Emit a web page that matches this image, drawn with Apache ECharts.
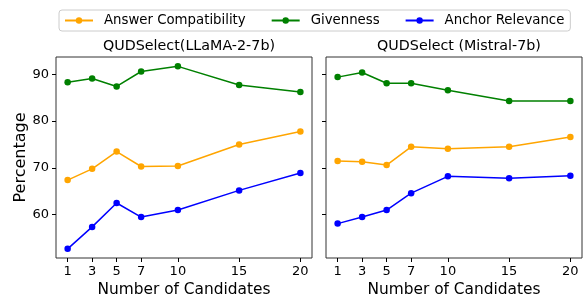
<!DOCTYPE html>
<html>
<head>
<meta charset="utf-8">
<script src="https://cdn.jsdelivr.net/npm/echarts@6/dist/echarts.min.js"></script>
<style>
    html, body { margin: 0; padding: 0; background: #fff; }
    #chart { width: 585px; height: 295px; }
</style>
</head>
<body>
<div id="chart"></div>
<script>
// 候选数量
var candidates = [1, 3, 5, 7, 10, 15, 20];
var yTicks = [60, 70, 80, 90];
var seriesNames = ['Answer Compatibility', 'Givenness', 'Anchor Relevance'];
var panelTitles = ['QUDSelect(LLaMA-2-7b)', 'QUDSelect (Mistral-7b)'];

// LLaMA-2-7b
var llamaAnswer = [67.4, 69.8, 73.5, 70.3, 70.4, 75.0, 77.8];
var llamaGiven = [88.3, 89.1, 87.4, 90.6, 91.7, 87.7, 86.2];
var llamaAnchor = [52.7, 57.4, 62.5, 59.5, 61.0, 65.2, 68.9];

// Mistral-7b
var mistralAnswer = [71.5, 71.3, 70.6, 74.5, 74.1, 74.5, 76.6];
var mistralGiven = [89.4, 90.4, 88.1, 88.1, 86.6, 84.3, 84.3];
var mistralAnchor = [58.1, 59.5, 61.0, 64.6, 68.2, 67.8, 68.3];

var colors = ['#FFA500', '#008000', '#0000FF'];
var font = 'DejaVu Sans';

function pairs(ys) {
    return candidates.map(function (x, i) { return [x, ys[i]]; });
}

var chart = echarts.init(document.getElementById('chart'));

function makeX(idx) {
    return {
        type: 'value',
        gridIndex: idx,
        min: 0.05,
        max: 20.95,
        name: 'Number of Candidates',
        nameLocation: 'middle',
        nameGap: 21,
        nameTextStyle: { fontFamily: font, fontSize: 15.4, color: '#000' },
        axisLine: { show: false },
        axisTick: { show: true, length: 4, customValues: candidates, lineStyle: { color: '#000' } },
        axisLabel: { customValues: candidates, fontFamily: font, fontSize: 13, color: '#000', margin: 7 },
        splitLine: { show: false }
    };
}

function makeY(idx) {
    return {
        type: 'value',
        gridIndex: idx,
        min: 50.75,
        max: 93.7,
        name: idx === 0 ? 'Percentage' : '',
        nameLocation: 'middle',
        nameGap: 27,
        nameTextStyle: { fontFamily: font, fontSize: 16, color: '#000' },
        axisLine: { show: false },
        axisTick: { show: true, length: 4, customValues: yTicks, lineStyle: { color: '#000' } },
        axisLabel: { show: idx === 0, customValues: yTicks, fontFamily: font, fontSize: 13, color: '#000', margin: 7 },
        splitLine: { show: false }
    };
}

function makeSeries(idx, data) {
    return data.map(function (ys, k) {
        return {
            name: seriesNames[k],
            type: 'line',
            xAxisIndex: idx,
            yAxisIndex: idx,
            data: pairs(ys),
            symbol: 'circle',
            symbolSize: 6.5,
            color: colors[k],
            lineStyle: { width: 1.5 },
            animation: false
        };
    });
}

var option = {
    backgroundColor: '#fff',
    title: [
        { text: panelTitles[0], left: 184, top: 34, textAlign: 'center',
          textStyle: { fontFamily: font, fontSize: 14.3, fontWeight: 'normal', color: '#000' } },
        { text: panelTitles[1], left: 454, top: 34, textAlign: 'center',
          textStyle: { fontFamily: font, fontSize: 14.3, fontWeight: 'normal', color: '#000' } }
    ],
    legend: {
        data: seriesNames,
        top: 10,
        left: 59,
        padding: [4, 6, 4, 5],
        itemGap: 25,
        itemWidth: 28,
        itemHeight: 8,
        borderColor: '#ccc',
        borderWidth: 1,
        borderRadius: 3,
        textStyle: { fontFamily: font, fontSize: 13.3, color: '#000', padding: [0, 0, 0, 6] }
    },
    grid: [
        { left: 56, top: 57, width: 256, height: 201, show: true, borderColor: '#333', borderWidth: 1, outerBoundsMode: 'none' },
        { left: 326, top: 57, width: 256, height: 201, show: true, borderColor: '#333', borderWidth: 1, outerBoundsMode: 'none' }
    ],
    xAxis: [makeX(0), makeX(1)],
    yAxis: [makeY(0), makeY(1)],
    series: makeSeries(0, [llamaAnswer, llamaGiven, llamaAnchor])
        .concat(makeSeries(1, [mistralAnswer, mistralGiven, mistralAnchor]))
};

chart.setOption(option);
</script>
</body>
</html>
